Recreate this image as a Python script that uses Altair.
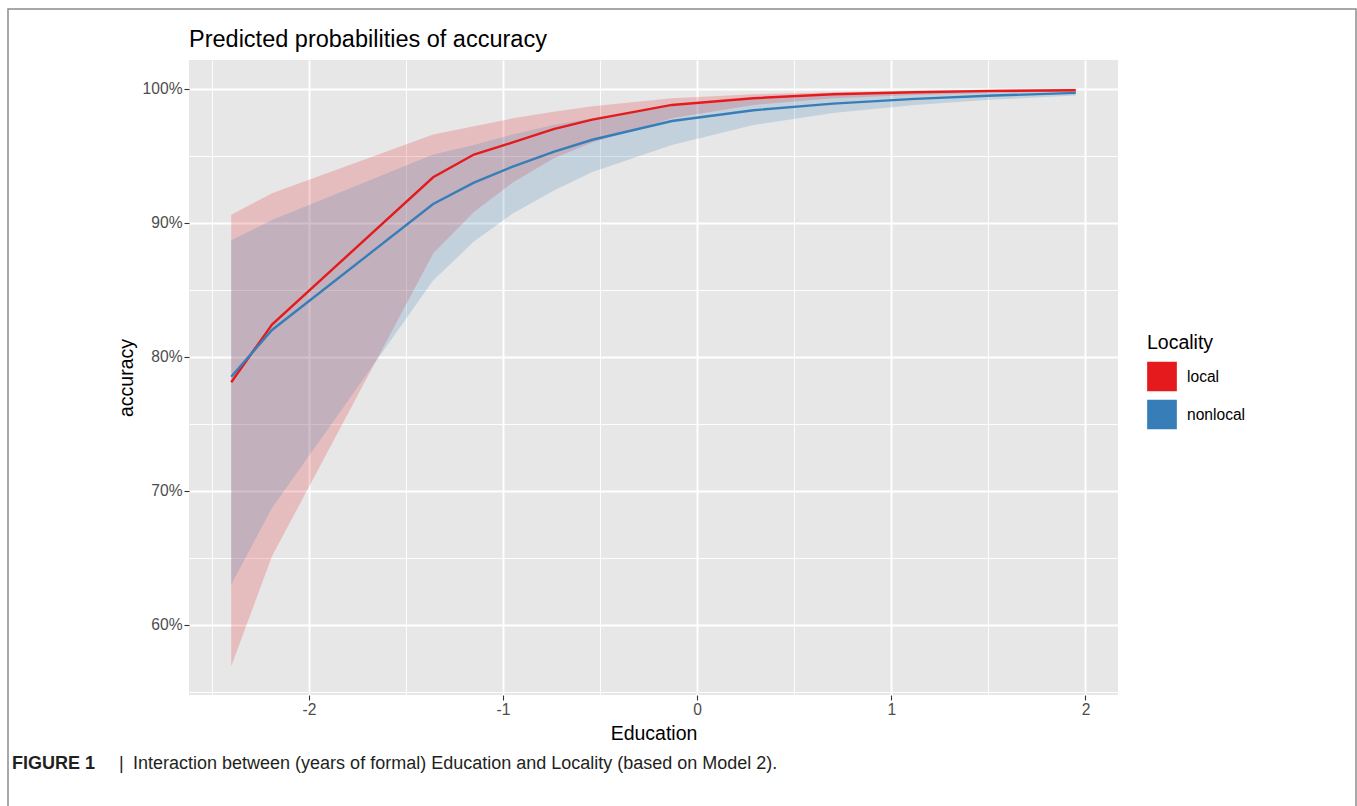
import altair as alt
import pandas as pd

# ---- data ----
education = [-2.40, -2.19, -1.36, -1.15, -0.95, -0.74, -0.54, -0.13, 0.29, 0.70, 1.12, 1.53, 1.95]
local_pred = [78.1, 82.4, 93.4, 95.1, 96.0, 97.0, 97.7, 98.8, 99.3, 99.6, 99.75, 99.85, 99.9]
local_low = [56.9, 65.1, 87.7, 90.8, 93.0, 94.8, 96.0, 97.8, 98.8, 99.3, 99.55, 99.7, 99.8]
local_high = [90.6, 92.2, 96.6, 97.2, 97.8, 98.3, 98.7, 99.3, 99.6, 99.75, 99.85, 99.95, 100.0]
nonlocal_pred = [78.5, 82.0, 91.4, 93.0, 94.2, 95.3, 96.2, 97.6, 98.4, 98.9, 99.25, 99.5, 99.7]
nonlocal_low = [63.0, 68.7, 85.7, 88.6, 90.7, 92.4, 93.8, 95.8, 97.3, 98.2, 98.8, 99.2, 99.5]
nonlocal_high = [88.7, 90.2, 95.1, 95.8, 96.6, 97.3, 97.8, 98.7, 99.2, 99.5, 99.65, 99.8, 99.85]

localities = ["local", "nonlocal"]
x_ticks = [-2, -1, 0, 1, 2]
x_minor = [-2.5, -1.5, -0.5, 0.5, 1.5]
y_ticks = [60, 70, 80, 90, 100]
y_minor = [55, 65, 75, 85, 95]

title_text = "Predicted probabilities of accuracy"
caption_bold = "FIGURE 1"
caption_bar = "|"
caption_text = "Interaction between (years of formal) Education and Locality (based on Model 2)."

rows = []
for loc, pr, lo, hi in [("local", local_pred, local_low, local_high),
                        ("nonlocal", nonlocal_pred, nonlocal_low, nonlocal_high)]:
    for e, p, l, h in zip(education, pr, lo, hi):
        rows.append({"Education": e, "Locality": loc, "pred": p, "low": l, "high": h})
df = pd.DataFrame(rows)

FONT = "Liberation Sans"
xscale = alt.Scale(domain=[-2.6175, 2.1675], nice=False, zero=False)
yscale = alt.Scale(domain=[54.745, 102.155], nice=False, zero=False)

color_scale = alt.Scale(domain=localities, range=["#E41A1C", "#377EB8"])

legend = alt.Legend(
    title="Locality",
    orient="none",
    legendX=958,
    legendY=274,
    padding=0,
    titleFontSize=19.5,
    titleFont=FONT,
    titleFontWeight="normal",
    titleColor="black",
    titlePadding=8,
    labelFontSize=15.6,
    labelFont=FONT,
    labelColor="black",
    labelOffset=10,
    rowPadding=2,
    symbolType="M-1,-1H1V1H-1Z M-1,0H1",
    symbolSize=784,
    symbolStrokeWidth=1.7,
    symbolFillColor="#D0CECE",
    symbolOpacity=1,
)

x_axis = alt.Axis(
    values=x_ticks + x_minor,
    labelExpr="datum.value % 1 == 0 ? '' + datum.value : ''",
    gridWidth={"condition": {"test": "datum.value % 1 != 0", "value": 0.9}, "value": 1.9},
    tickOpacity={"condition": {"test": "datum.value % 1 != 0", "value": 0}, "value": 1},
    title="Education",
    titlePadding=7,
)
y_axis = alt.Axis(
    values=y_ticks + y_minor,
    labelExpr="datum.value % 10 == 0 ? datum.value + '%' : ''",
    gridWidth={"condition": {"test": "datum.value % 10 != 0", "value": 0.9}, "value": 1.9},
    tickOpacity={"condition": {"test": "datum.value % 10 != 0", "value": 0}, "value": 1},
    title="accuracy",
    titlePadding=6,
)

x_enc = alt.X("Education:Q", scale=xscale, axis=x_axis)
color_enc = alt.Color("Locality:N", scale=color_scale, legend=legend)

base = alt.Chart(df)

bands = base.mark_area(opacity=0.2).encode(
    x=x_enc,
    y=alt.Y("low:Q", scale=yscale, axis=y_axis),
    y2="high:Q",
    color=color_enc,
)

lines = base.mark_line(strokeWidth=2.4).encode(
    x=x_enc,
    y=alt.Y("pred:Q", scale=yscale, axis=y_axis),
    color=color_enc,
)

one = pd.DataFrame({"a": [0]})
frame = alt.Chart(one).mark_rect(fillOpacity=0, stroke="#8C8C8C", strokeWidth=1.5).encode(
    x=alt.value(-181), x2=alt.value(1167), y=alt.value(-51), y2=alt.value(770)
)
title_mark = alt.Chart(one).mark_text(align="left", baseline="alphabetic", font=FONT, fontSize=23.5,
                                      color="black").encode(
    x=alt.value(0), y=alt.value(-13), text=alt.value(title_text)
)
cap1 = alt.Chart(one).mark_text(align="left", baseline="alphabetic", font=FONT, fontSize=18,
                                fontWeight="bold", color="#231F20").encode(
    x=alt.value(-177), y=alt.value(709), text=alt.value(caption_bold)
)
cap2 = alt.Chart(one).mark_text(align="left", baseline="alphabetic", font=FONT, fontSize=18,
                                color="#231F20").encode(
    x=alt.value(-70), y=alt.value(709), text=alt.value(caption_bar)
)
cap3 = alt.Chart(one).mark_text(align="left", baseline="alphabetic", font=FONT, fontSize=18,
                                color="#231F20").encode(
    x=alt.value(-56), y=alt.value(709), text=alt.value(caption_text)
)

chart = alt.layer(bands, lines, frame, title_mark, cap1, cap2, cap3).properties(
    width=929,
    height=635,
    padding={"left": 189, "top": 60, "right": 239, "bottom": 111},
    autosize=alt.AutoSizeParams(type="none"),
    background="white",
).configure_view(
    fill="#E7E7E7", strokeWidth=0
).configure_axis(
    domain=False,
    grid=True,
    gridColor="white",
    tickColor="#333333",
    tickSize=5,
    tickWidth=1.1,
    labelColor="#4D4D4D",
    labelFont=FONT,
    labelFontSize=15.6,
    labelPadding=2,
    titleFont=FONT,
    titleFontSize=19.5,
    titleFontWeight="normal",
    titleColor="black",
)

chart.save("out.html", embed_options={"renderer": "svg", "actions": False})
